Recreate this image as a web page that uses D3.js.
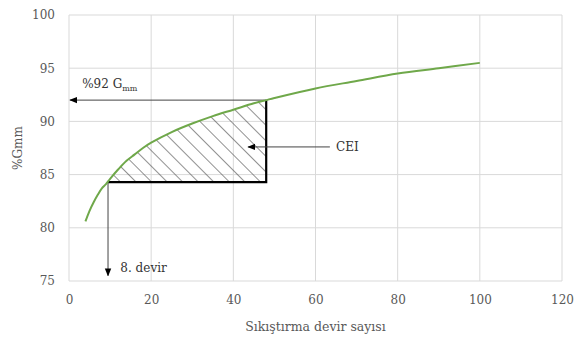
<!DOCTYPE html>
<html><head><meta charset="utf-8">
<script src="https://cdn.jsdelivr.net/npm/d3@7/dist/d3.min.js"></script>
<style>body{margin:0;background:#fff}svg{display:block}</style>
</head><body>
<script>
const cycles = [4,5,6,7,8,9,10,12,14,16,18,20,25,30,35,40,45,48,50,60,70,80,90,100];
const gmm    = [80.6,81.6,82.4,83.1,83.7,84.1,84.6,85.5,86.3,86.9,87.5,88.0,89.0,89.8,90.5,91.1,91.7,92.0,92.2,93.1,93.8,94.5,95.0,95.5];
const xTicks = [0,20,40,60,80,100,120];
const yTicks = [75,80,85,90,95,100];
const ceiStart = 9.5, ceiEnd = 48, ceiBase = 84.3, target = 92;

const W=574,H=341,m={l:69,r:12,t:15,b:60};
const FONT="DejaVu Serif";
const svg=d3.select("body").append("svg").attr("width",W).attr("height",H).style("font-family",FONT);
const x=d3.scaleLinear().domain([0,120]).range([m.l,W-m.r]);
const y=d3.scaleLinear().domain([75,100]).range([H-m.b,m.t]);
const grid="#d9d9d9", txt="#595959";

svg.append("g").selectAll("line").data(yTicks).join("line")
 .attr("x1",x(0)).attr("x2",x(120)).attr("y1",d=>y(d)).attr("y2",d=>y(d)).attr("stroke",grid);
svg.append("g").selectAll("line").data(xTicks).join("line")
 .attr("y1",y(75)).attr("y2",y(100)).attr("x1",d=>x(d)).attr("x2",d=>x(d)).attr("stroke",grid);

const xa=svg.append("g").attr("transform",`translate(0,${y(75)})`).call(d3.axisBottom(x).tickValues(xTicks).tickSize(0).tickPadding(14));
xa.attr("font-family",null).attr("font-size",12);
xa.select(".domain").remove();
xa.selectAll("text").attr("fill",txt);
const ya=svg.append("g").attr("transform",`translate(${x(0)},0)`).call(d3.axisLeft(y).tickValues(yTicks).tickSize(0).tickPadding(14));
ya.attr("font-family",null).attr("font-size",12);
ya.select(".domain").remove();
ya.selectAll("text").attr("fill",txt);

svg.append("text").attr("x",(x(0)+x(120))/2).attr("y",331).attr("text-anchor","middle").attr("fill",txt).attr("font-size",12.5).text("Sıkıştırma devir sayısı");
svg.append("text").attr("transform",`translate(22,${(y(75)+y(100))/2}) rotate(-90)`).attr("text-anchor","middle").attr("fill",txt).attr("font-size",12).text("%Gmm");

const defs=svg.append("defs");
const pat=defs.append("pattern").attr("id","hatch").attr("patternUnits","userSpaceOnUse").attr("width",11).attr("height",11).attr("patternTransform","rotate(-45)");
pat.append("line").attr("x1",0).attr("y1",0).attr("x2",0).attr("y2",11).attr("stroke","#555").attr("stroke-width",1.3);
defs.append("marker").attr("id","arr").attr("viewBox","0 0 10 10").attr("refX",9).attr("refY",5).attr("markerWidth",8).attr("markerHeight",8).attr("orient","auto-start-reverse").attr("markerUnits","userSpaceOnUse")
 .append("path").attr("d","M0,1 L10,5 L0,9 Z").attr("fill","#000");

const data=cycles.map((c,i)=>({c,g:gmm[i]}));
const interp=d3.scaleLinear().domain(cycles).range(gmm);
const areaPts=[{c:ceiStart,g:interp(ceiStart)}].concat(data.filter(d=>d.c>ceiStart&&d.c<ceiEnd)).concat([{c:ceiEnd,g:target}]);
const area=d3.area().x(d=>x(d.c)).y0(y(ceiBase)).y1(d=>y(d.g)).curve(d3.curveCatmullRom);
svg.append("path").datum(areaPts).attr("d",area).attr("fill","url(#hatch)");

svg.append("path").attr("d",`M${x(ceiStart)},${y(ceiBase)}H${x(ceiEnd)}V${y(target)}`).attr("fill","none").attr("stroke","#000").attr("stroke-width",2.2);

svg.append("line").attr("x1",x(ceiEnd)).attr("y1",y(target)).attr("x2",x(0)+1).attr("y2",y(target)).attr("stroke","#444").attr("stroke-width",1).attr("marker-end","url(#arr)");
svg.append("line").attr("x1",x(ceiStart)).attr("y1",y(ceiBase)).attr("x2",x(ceiStart)).attr("y2",y(75.5)).attr("stroke","#444").attr("stroke-width",1).attr("marker-end","url(#arr)");
svg.append("line").attr("x1",x(63.5)).attr("y1",y(87.6)).attr("x2",x(43.6)).attr("y2",y(87.6)).attr("stroke","#444").attr("stroke-width",1).attr("marker-end","url(#arr)");

svg.append("path").datum(data).attr("d",d3.line().x(d=>x(d.c)).y(d=>y(d.g)).curve(d3.curveCatmullRom))
 .attr("fill","none").attr("stroke","#6fa84a").attr("stroke-width",2);

const t1=svg.append("text").attr("x",x(3.2)).attr("y",y(93.1)).attr("fill","#333").attr("font-size",12);
t1.append("tspan").text("%92 G");
t1.append("tspan").attr("dy",3).attr("font-size",8).text("mm");
svg.append("text").attr("x",x(12.5)).attr("y",y(75.8)).attr("fill","#333").attr("font-size",12).text("8. devir");
svg.append("text").attr("x",x(65)).attr("y",y(87.6)+4.5).attr("fill","#333").attr("font-size",12).text("CEI");
</script>
</body></html>
